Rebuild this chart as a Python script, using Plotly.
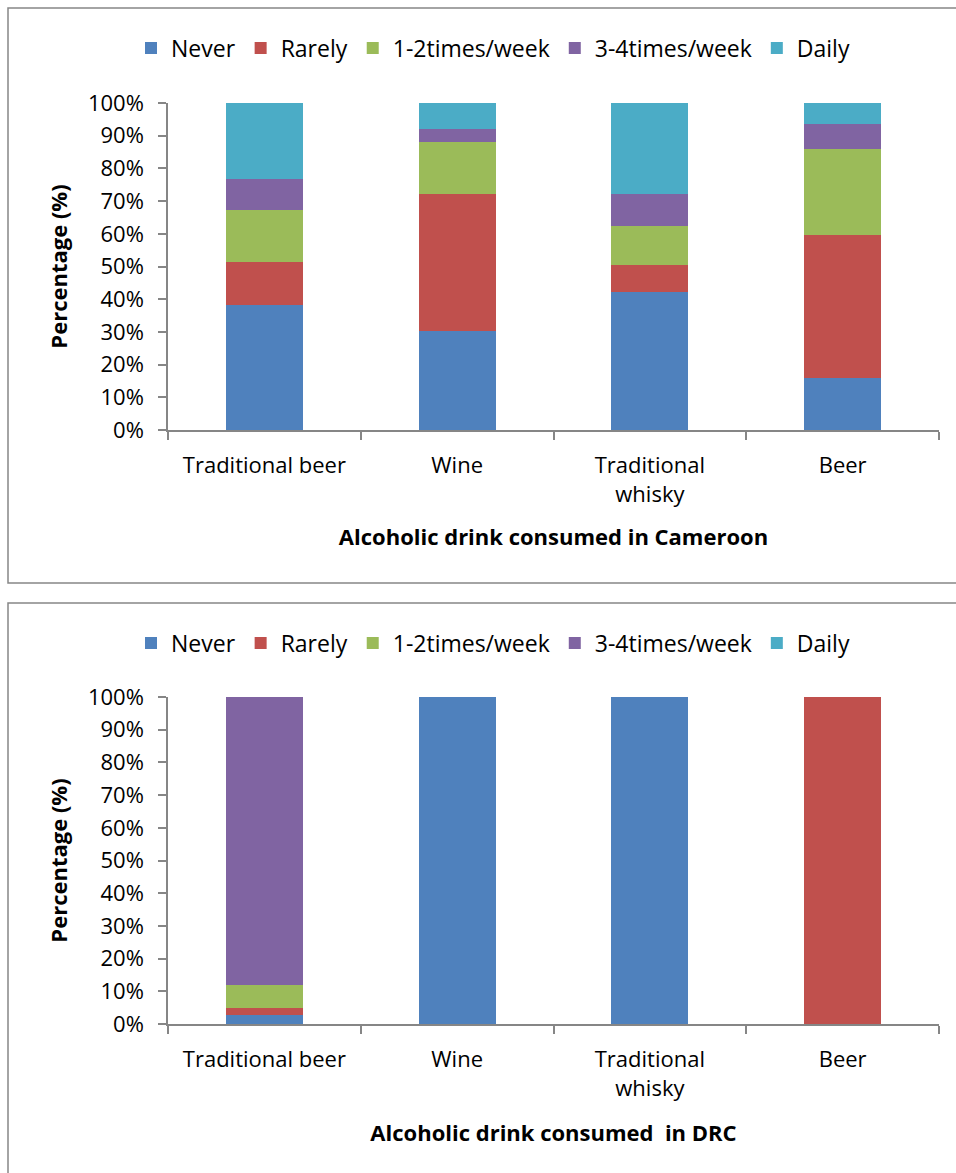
import plotly.graph_objects as go

W, H = 956, 1173

drinks = ["Traditional beer", "Wine", "Traditional<br>whisky", "Beer"]
series = ["Never", "Rarely", "1-2times/week", "3-4times/week", "Daily"]
colors = ["#4F81BD", "#C0504D", "#9BBB59", "#8064A2", "#4BACC6"]

# Cameroon, percentage of respondents per frequency (columns: drinks)
cameroon_never = [38.3, 30.2, 42.3, 16.0]
cameroon_rarely = [13.0, 42.1, 8.2, 43.5]
cameroon_weekly_1_2 = [15.9, 15.7, 11.9, 26.3]
cameroon_weekly_3_4 = [9.5, 3.9, 9.7, 7.9]
cameroon_daily = [23.3, 8.1, 27.9, 6.3]

# DRC
drc_never = [2.8, 100, 100, 0]
drc_rarely = [2.0, 0, 0, 100]
drc_weekly_1_2 = [7.2, 0, 0, 0]
drc_weekly_3_4 = [88.0, 0, 0, 0]
drc_daily = [0, 0, 0, 0]

cameroon = [cameroon_never, cameroon_rarely, cameroon_weekly_1_2,
            cameroon_weekly_3_4, cameroon_daily]
drc = [drc_never, drc_rarely, drc_weekly_1_2, drc_weekly_3_4, drc_daily]

FONT = "Open Sans"
FS = 22
AXIS_GREY = "#868686"


def px_x(x):
    return x / W


def px_y(y):
    return 1 - y / H


fig = go.Figure()

for name, col, vals in zip(series, colors, cameroon):
    fig.add_trace(go.Bar(x=drinks, y=vals, name=name, marker_color=col,
                         marker_line_width=0, xaxis="x", yaxis="y",
                         legend="legend"))
for name, col, vals in zip(series, colors, drc):
    fig.add_trace(go.Bar(x=drinks, y=vals, name=name, marker_color=col,
                         marker_line_width=0, xaxis="x2", yaxis="y2",
                         legend="legend2"))


def yaxis_cfg(top, bottom):
    return dict(
        domain=[px_y(bottom), px_y(top)], range=[0, 100], dtick=10,
        ticksuffix="%", showgrid=False, zeroline=False, automargin=False,
        showline=True, linecolor=AXIS_GREY, linewidth=1.5,
        ticks="outside", ticklen=8, tickcolor=AXIS_GREY, tickwidth=1.5,
        ticklabelstandoff=10,
        tickfont=dict(family=FONT, size=FS, color="#000"),
        title=dict(text="<b>Percentage (%)</b>", standoff=14,
                   font=dict(family=FONT, size=FS, color="#000")),
    )


def xaxis_cfg(title, anchor, standoff):
    return dict(
        domain=[px_x(168), px_x(939)], anchor=anchor, automargin=False,
        type="category", tickson="boundaries", showgrid=False,
        showline=True, linecolor=AXIS_GREY, linewidth=1.5,
        ticks="outside", ticklen=8, tickcolor=AXIS_GREY, tickwidth=1.5,
        ticklabelstandoff=15,
        tickfont=dict(family=FONT, size=FS, color="#000"),
        title=dict(text="<b>" + title + "</b>", standoff=standoff,
                   font=dict(family=FONT, size=FS, color="#000")),
    )


legend_common = dict(
    orientation="h", xanchor="center", yanchor="middle", x=px_x(493),
    font=dict(family=FONT, size=23, color="#000"), traceorder="normal",
    itemwidth=30, bgcolor="rgba(0,0,0,0)",
)

fig.update_layout(
    width=W, height=H, margin=dict(l=0, r=0, t=0, b=0, pad=0),
    paper_bgcolor="white", plot_bgcolor="white",
    barmode="stack", bargap=0.6,
    font=dict(family=FONT, size=FS, color="#000"),
    xaxis=xaxis_cfg("Alcoholic drink consumed in Cameroon", "y", 23),
    yaxis=yaxis_cfg(103, 430),
    xaxis2=xaxis_cfg("Alcoholic drink consumed \u00a0in DRC", "y2", 25),
    yaxis2=yaxis_cfg(697, 1024),
    legend=dict(y=px_y(48), **legend_common),
    legend2=dict(y=px_y(643), **legend_common),
    shapes=[
        dict(type="rect", xref="paper", yref="paper",
             x0=px_x(8), x1=px_x(990), y0=px_y(8), y1=px_y(583),
             line=dict(color=AXIS_GREY, width=1.5), layer="below"),
        dict(type="rect", xref="paper", yref="paper",
             x0=px_x(8), x1=px_x(990), y0=px_y(603), y1=px_y(1200),
             line=dict(color=AXIS_GREY, width=1.5), layer="below"),
    ],
)

fig.write_html("out.html")
